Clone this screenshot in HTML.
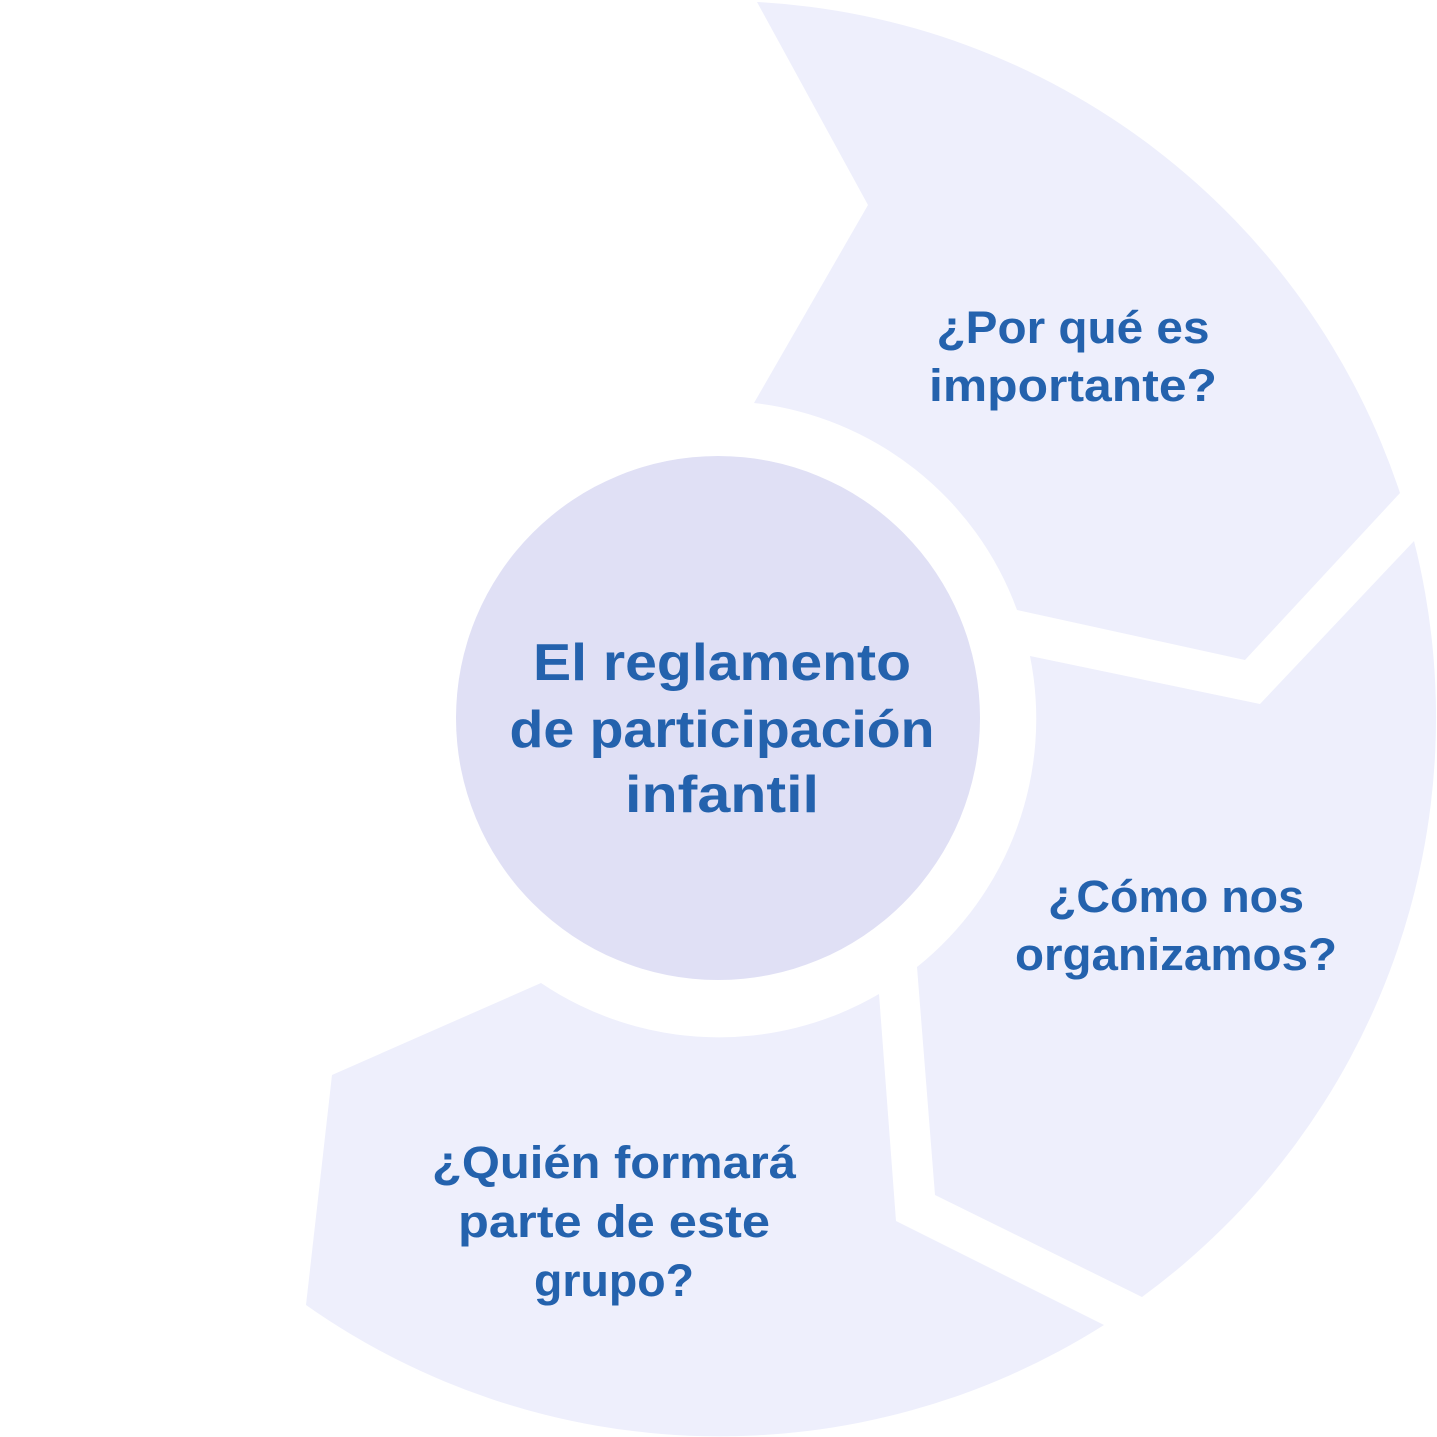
<!DOCTYPE html>
<html><head><meta charset="utf-8"><style>
html,body{margin:0;padding:0;background:#fff;}
svg{display:block;}
text{font-family:"Liberation Sans",sans-serif;font-weight:bold;fill:#2462AD;text-anchor:middle;}
</style></head><body>
<svg width="1437" height="1437" viewBox="0 0 1437 1437" xmlns="http://www.w3.org/2000/svg">
<g fill="#EEEFFC">
<path d="M757,2 A718,718 0 0 1 1400,493 L1245,660 L1017,610 A318,318 0 0 0 754,403 L868,205 Z"/>
<path d="M1414,541 A718,718 0 0 1 1142,1297 L935,1195 L917,967 A318,318 0 0 0 1030,656 L1260,704 Z"/>
<path d="M1104,1325 A718,718 0 0 1 306,1305 L332,1075 L541,983 A318,318 0 0 0 879,994 L896,1221 Z"/>
</g>
<circle cx="718" cy="718" r="262" fill="#E0E0F5"/>
<g font-size="45">
<text x="1073" y="343" textLength="273" lengthAdjust="spacingAndGlyphs">¿Por qué es</text>
<text x="1073" y="401" textLength="288" lengthAdjust="spacingAndGlyphs">importante?</text>
<text x="1176" y="912" textLength="256" lengthAdjust="spacingAndGlyphs">¿Cómo nos</text>
<text x="1176" y="970" textLength="322" lengthAdjust="spacingAndGlyphs">organizamos?</text>
<text x="614" y="1178" textLength="364" lengthAdjust="spacingAndGlyphs">¿Quién formará</text>
<text x="614" y="1237" textLength="312" lengthAdjust="spacingAndGlyphs">parte de este</text>
<text x="614" y="1296" textLength="160" lengthAdjust="spacingAndGlyphs">grupo?</text>
</g>
<g font-size="52">
<text x="722" y="680" textLength="378" lengthAdjust="spacingAndGlyphs">El reglamento</text>
<text x="722" y="747" textLength="425" lengthAdjust="spacingAndGlyphs">de participación</text>
<text x="722" y="812" textLength="194" lengthAdjust="spacingAndGlyphs">infantil</text>
</g>
</svg>
</body></html>
